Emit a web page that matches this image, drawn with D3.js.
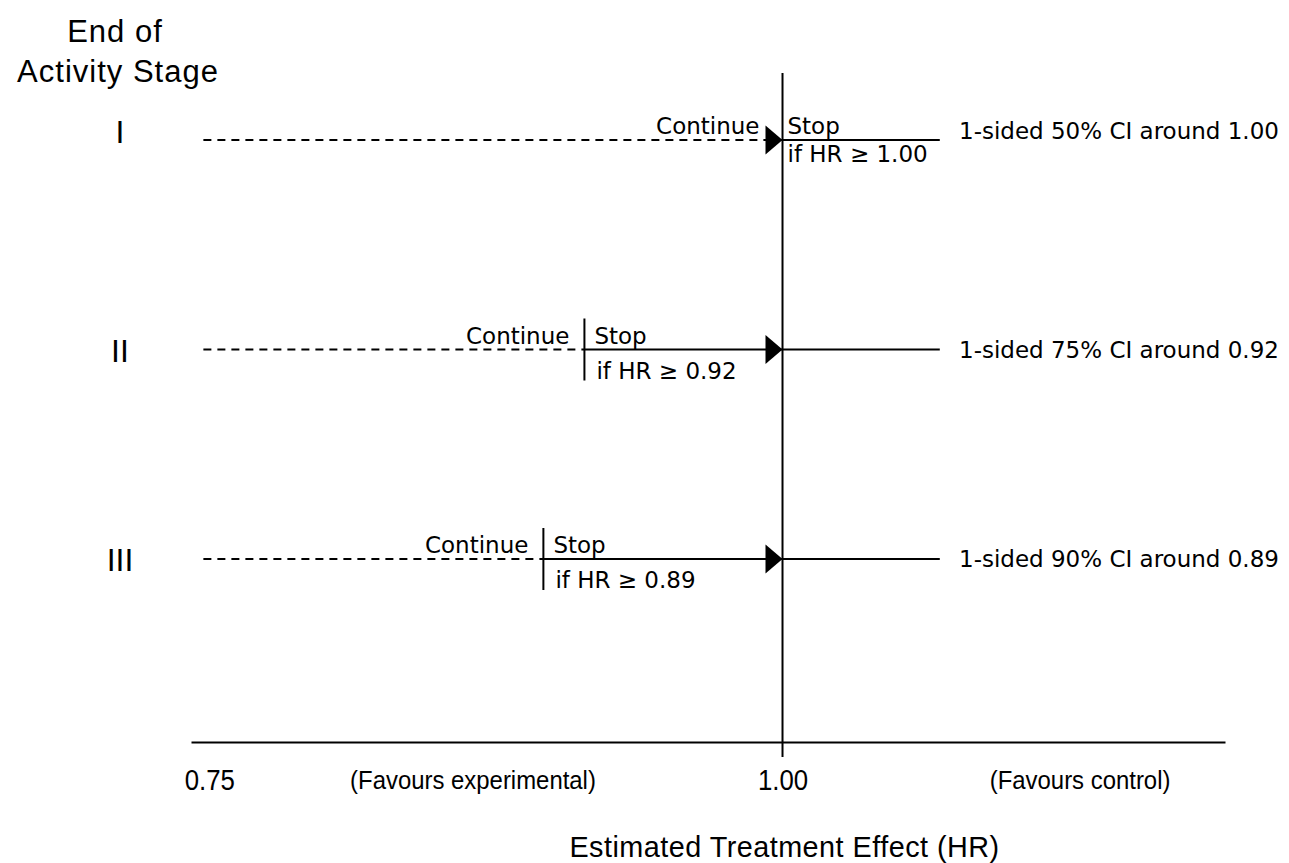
<!DOCTYPE html>
<html>
<head>
    <title>Stage stopping rules</title>
    <script src="https://d3js.org/d3.v7.min.js"></script>
    <style>
        body {
            margin: 0;
            background: #fff;
        }
        svg text {
            fill: #000;
        }
        .arial {
            font-family: "Liberation Sans", Arial, sans-serif;
        }
        .verd {
            font-family: "DejaVu Sans", Verdana, sans-serif;
            font-size: 23px;
        }
    </style>
</head>
<body>
    <div id="chart"></div>

    <script>
        // Stages and the HR where the continue/stop split sits
        const stages = ["I", "II", "III"];
        const thresholds = ["1.00", "0.92", "0.89"];
        const splitAt = [1.00, 0.9136, 0.8957];
        const ciLabels = [
            "1-sided 50% CI around 1.00",
            "1-sided 75% CI around 0.92",
            "1-sided 90% CI around 0.89"
        ];

        // Axis values
        const axisExtent = [0.742, 1.193];
        const tickValues = [0.75, 1.00];
        const dashStart = 0.7474;
        const solidEnd = 1.0686;
        const refHR = 1.00;
        const sideNotes = [
            {hr: 0.865, text: "(Favours experimental)"},
            {hr: 1.1298, text: "(Favours control)"}
        ];

        const width = 1289;
        const height = 863;

        const svg = d3.select('#chart')
            .append('svg')
            .attr('width', width)
            .attr('height', height);

        const x = d3.scaleLinear().domain(axisExtent).range([191, 1225]);
        const y = d3.scalePoint().domain(stages).range([140, 559]);
        const axisY = 742;

        // per-row nudge of the row labels (stage I text sits a bit higher)
        const rowShift = {"I": -9, "II": 0, "III": 0};

        const rows = stages.map((s, i) => ({
            stage: s,
            split: splitAt[i],
            thr: thresholds[i],
            ci: ciLabels[i]
        }));

        // Axis along the bottom
        const axis = d3.axisBottom(x)
            .tickValues(tickValues)
            .tickSize(0)
            .tickSizeOuter(0)
            .tickPadding(27)
            .tickFormat(d3.format('.2f'));

        const gAxis = svg.append('g')
            .attr('transform', `translate(0,${axisY})`)
            .call(axis);
        gAxis.select('.domain').attr('stroke', '#000').attr('stroke-width', 2);
        gAxis.selectAll('text')
            .attr('class', 'arial')
            .attr('transform', 'scale(0.86,1)')
            .style('font-size', '30px')
            .attr('fill', '#000');

        // vertical reference line at HR = 1
        svg.append('line')
            .attr('x1', x(refHR)).attr('x2', x(refHR))
            .attr('y1', 73).attr('y2', axisY + 15)
            .attr('stroke', '#000')
            .attr('stroke-width', 2);

        // side notes under the axis (narrow, tall lettering)
        svg.selectAll('.note')
            .data(sideNotes)
            .join('text')
            .attr('class', 'note arial')
            .attr('transform', d => `translate(${x(d.hr)},${axisY + 47}) scale(0.92,1)`)
            .attr('text-anchor', 'middle')
            .style('font-size', '26px')
            .text(d => d.text);

        // axis title
        svg.append('text')
            .attr('class', 'arial')
            .attr('transform', `translate(${x(refHR) + 2},857) scale(0.96,1)`)
            .attr('text-anchor', 'middle')
            .style('font-size', '30px')
            .style('letter-spacing', '0.5px')
            .text('Estimated Treatment Effect (HR)');

        // y title
        const yTitle = svg.append('text')
            .attr('class', 'arial')
            .attr('text-anchor', 'middle')
            .style('font-size', '31px')
            .style('letter-spacing', '1px');
        yTitle.append('tspan').attr('x', 115).attr('y', 42).text('End of');
        yTitle.append('tspan').attr('x', 118).attr('y', 82).text('Activity Stage');

        const row = svg.selectAll('.row')
            .data(rows)
            .join('g')
            .attr('class', 'row')
            .attr('transform', d => `translate(0,${y(d.stage)})`);

        // stage numerals
        row.append('text')
            .attr('class', 'arial')
            .attr('x', 120)
            .attr('y', d => 12 + rowShift[d.stage])
            .attr('text-anchor', 'middle')
            .style('font-size', '32px')
            .text(d => d.stage);

        // dashed part: continue
        row.append('line')
            .attr('x1', x(dashStart))
            .attr('x2', d => x(d.split))
            .attr('stroke', '#000')
            .attr('stroke-width', 2)
            .attr('stroke-dasharray', '8,6');

        // solid part: from split out to the right
        row.append('line')
            .attr('x1', d => x(d.split))
            .attr('x2', x(solidEnd))
            .attr('stroke', '#000')
            .attr('stroke-width', 2);

        // arrow head pointing at HR = 1
        row.append('path')
            .attr('d', `M${x(refHR)},0 L${x(refHR) - 17},-14.5 L${x(refHR) - 17},14.5 Z`)
            .attr('fill', '#000');

        // split marker (stage I uses the reference line itself)
        row.filter(d => d.split !== refHR)
            .append('line')
            .attr('x1', d => x(d.split)).attr('x2', d => x(d.split))
            .attr('y1', -31).attr('y2', 31)
            .attr('stroke', '#000')
            .attr('stroke-width', 2);

        row.append('text')
            .attr('class', 'verd')
            .attr('x', d => x(d.split) - (d.split === refHR ? 23 : 15))
            .attr('y', -6)
            .attr('text-anchor', 'end')
            .text('Continue');

        row.append('text')
            .attr('class', 'verd')
            .attr('x', d => x(d.split) + (d.split === refHR ? 5 : 10))
            .attr('y', -6)
            .text('Stop');

        row.append('text')
            .attr('class', 'verd')
            .attr('x', d => x(d.split) + (d.split === refHR ? 5 : 12))
            .attr('y', d => d.split === refHR ? 22 : 29)
            .text(d => `if HR \u2265 ${d.thr}`);

        // CI label on the right
        row.append('text')
            .attr('class', 'verd')
            .attr('x', 959)
            .attr('y', d => 8 + rowShift[d.stage])
            .text(d => d.ci);
    </script>
</body>
</html>
